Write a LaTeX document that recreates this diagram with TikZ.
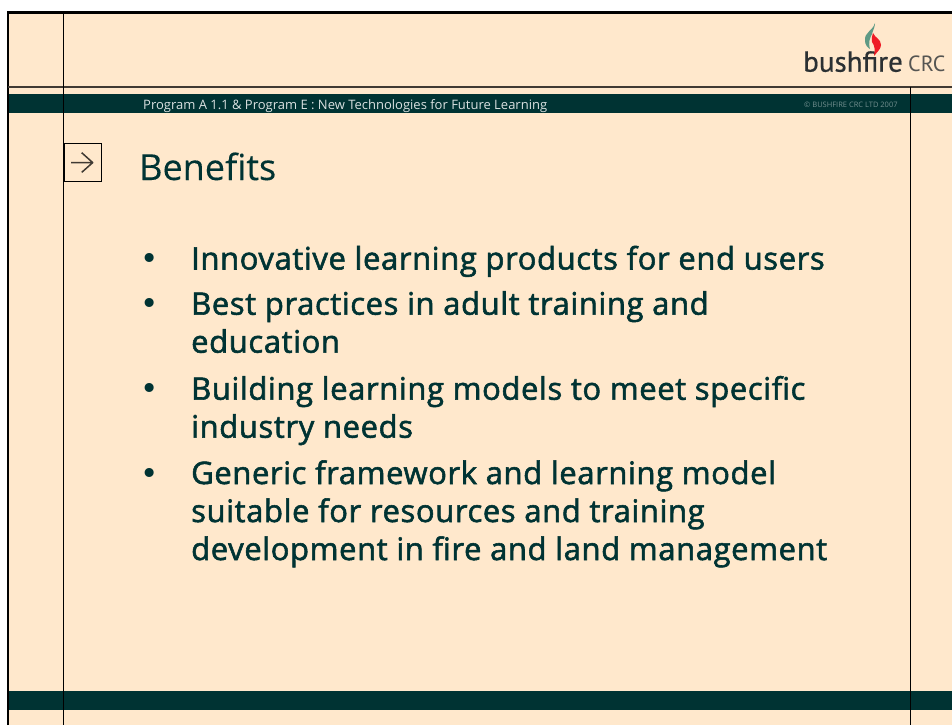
\documentclass[tikz,border=0pt]{standalone}
\usepackage{fontspec}
\setmainfont{Open Sans}
\newfontfamily\bodyfont[FakeBold=1.8,LetterSpace=1.95]{Open Sans}
\newfontfamily\titlefont[FakeBold=0.15]{Open Sans}
\newfontfamily\dotfont{DejaVu Sans}
\newfontfamily\logofont[FakeBold=0.6]{PT Sans}
\newfontfamily\crcfont{PT Sans}
\definecolor{cream}{HTML}{FFE8CC}
\definecolor{band}{HTML}{003333}
\definecolor{logotext}{HTML}{2B3033}
\definecolor{flameg}{HTML}{5F9A85}
\definecolor{flamer}{HTML}{EE1C25}
\tikzset{
 x=1pt,y=-1pt,
 bullettext/.style={anchor=base west,inner sep=0pt,text=band,font=\bodyfont\fontsize{31}{31}\selectfont},
 bulletdot/.style={anchor=base west,inner sep=0pt,text=band,font=\dotfont\fontsize{31}{31}\selectfont},
 rule/.style={line width=1pt,black},
}
\begin{document}
\begin{tikzpicture}
\useasboundingbox (0,0) rectangle (952,725);
\fill[white] (0,0) rectangle (952,725);
\fill[cream] (8,12.5) rectangle (952,725);
\fill[band] (8,94) rectangle (952,113);
\fill[band] (8,691) rectangle (952,710);
\draw[line width=2.4pt,black] (8,725) -- (8,12.5) -- (952,12.5);
\draw[line width=1.2pt,black!75!cream] (8,87) -- (952,87);
\draw[rule] (63.5,12) -- (63.5,725);
\draw[rule] (910.5,87) -- (910.5,725);
\node[draw=black,line width=1pt,fill=cream,minimum size=37.8pt,inner sep=0pt,anchor=north west] (box) at (63.5,143.4) {};
\draw[line width=1.5pt,black!75!cream,line join=round] (71,162.6) -- (92.5,162.6) (81.7,152.7) -- (92.7,162.6) -- (81.7,172.4);
\node[anchor=base west,inner sep=0pt,text=white!85!band,font=\fontsize{13}{13}\selectfont] (prog) at (143,109) {Program A 1.1 \& Program E : New Technologies for Future Learning};
\node[anchor=base west,inner sep=0pt,text=white!45!band,font=\fontsize{7.5}{7.5}\selectfont] (copy) at (804,107) {© BUSHFIRE CRC LTD 2007};
\node[anchor=base west,inner sep=0pt,text=band,font=\titlefont\fontsize{36}{36}\selectfont] (title) at (139,180) {Benefits};
\node[bulletdot] (b1) at (140.2,269.7) {•};
\node[bullettext] (t1) at (191,269.5) {Innovative learning products for end users};
\node[bulletdot] (b2) at (140.2,314.9) {•};
\node[bullettext] (t2) at (191,314.7) {Best practices in adult training and};
\node[bullettext] (t2b) at (191,352.7) {education};
\node[bulletdot] (b3) at (140.2,399.9) {•};
\node[bullettext] (t3) at (191,399.7) {Building learning models to meet specific};
\node[bullettext] (t3b) at (191,437.7) {industry needs};
\node[bulletdot] (b4) at (140.2,484.2) {•};
\node[bullettext] (t4) at (191,484) {Generic framework and learning model};
\node[bullettext] (t4b) at (191,522) {suitable for resources and training};
\node[bullettext] (t4c) at (191,560) {development in fire and land management};
\node[anchor=base west,inner sep=0pt,text=logotext,font=\logofont\fontsize{29}{29}\selectfont] (bf) at (803,71.7) {bushfire};
\node[anchor=base west,inner sep=0pt,text=logotext!80!cream,font=\crcfont\fontsize{22}{22}\selectfont] (crc) at (908,71.7) {CRC};
\fill[flameg] (875,23) .. controls (872,32) and (864,32) .. (865,41) .. controls (865,45) and (868,48) .. (870,49) .. controls (868,42) and (870,38) .. (872,34) .. controls (873,30) and (875,27) .. (875,23) -- cycle;
\fill[flamer] (873,33) .. controls (875,38) and (881,39) .. (881,45) .. controls (881,49) and (877,52) .. (874,56) .. controls (875,50) and (875,46) .. (872,42) .. controls (871,39) and (872,36) .. (873,33) -- cycle;
\end{tikzpicture}
\end{document}
